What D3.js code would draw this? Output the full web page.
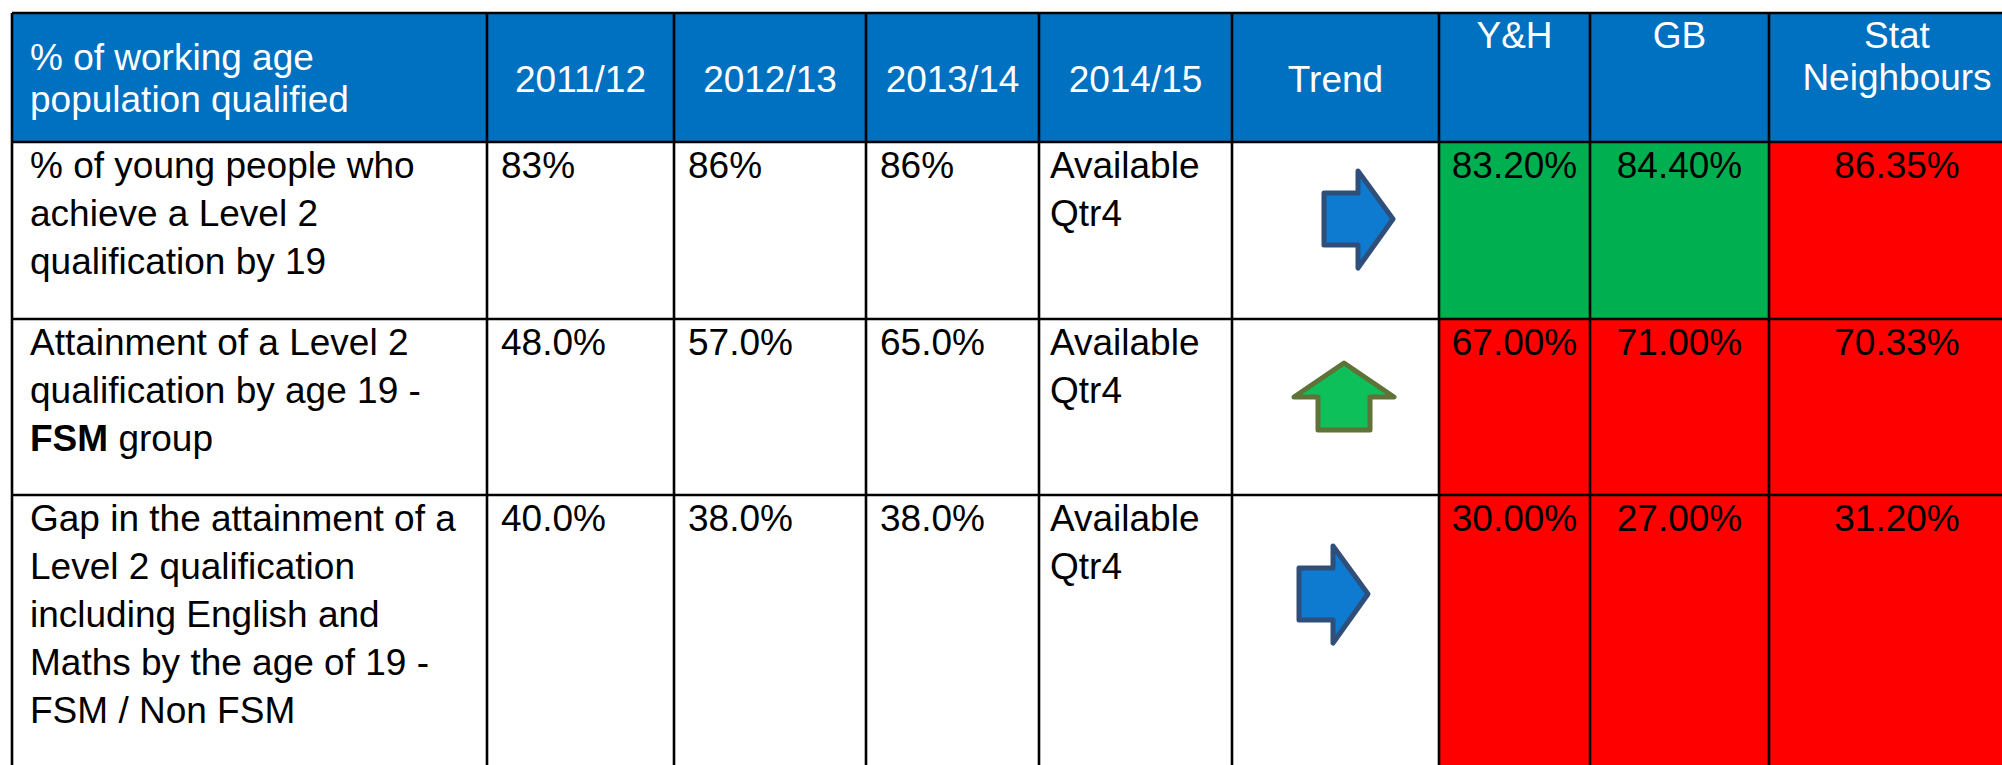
<!DOCTYPE html>
<html>
<head>
<meta charset="utf-8">
<script src="https://cdn.jsdelivr.net/npm/d3@7"></script>
<style>
  body { margin: 0; background: #fff; }
  svg { display: block; font-family: "Liberation Sans", Arial, sans-serif; }
</style>
</head>
<body>
<div id="table-container"></div>
<script>
// data
const headerTitle = ["% of working age", "population qualified"];
const years = ["2011/12", "2012/13", "2013/14", "2014/15"];
const comparators = [["Y&H"], ["GB"], ["Stat", "Neighbours"]];

const indicators = [
    [["% of young people who"], ["achieve a Level 2"], ["qualification by 19"]],
    [["Attainment of a Level 2"], ["qualification by age 19 -"], ["FSM", " group"]],
    [["Gap in the attainment of a"], ["Level 2 qualification"], ["including English and"], ["Maths by the age of 19 -"], ["FSM / Non FSM"]]
];
const v2011 = ["83%", "48.0%", "40.0%"];
const v2012 = ["86%", "57.0%", "38.0%"];
const v2013 = ["86%", "65.0%", "38.0%"];
const v2014 = [["Available", "Qtr4"], ["Available", "Qtr4"], ["Available", "Qtr4"]];
const trend = ["flat", "up", "flat"];
const yh = [83.20, 67.00, 30.00];
const gb = [84.40, 71.00, 27.00];
const statNeighbours = [86.35, 70.33, 31.20];
const yhRag = ["green", "red", "red"];
const gbRag = ["green", "red", "red"];
const snRag = ["red", "red", "red"];

// layout
const W = 2002, H = 765;
const colEdges = [12, 487, 674, 866, 1039, 1232, 1439, 1590, 1769, 2025];
const rowEdges = [13, 142, 319, 495, 800];
const lineH = 48;
const headerBlue = "#0070C0";
const ragColor = { green: "#00B050", red: "#FF0000" };

const svg = d3.select("#table-container").append("svg")
    .attr("width", W)
    .attr("height", H);

// header cells
svg.append("g").selectAll("rect")
    .data(d3.range(colEdges.length - 1))
    .enter().append("rect")
    .attr("x", i => colEdges[i])
    .attr("y", rowEdges[0])
    .attr("width", i => colEdges[i + 1] - colEdges[i])
    .attr("height", rowEdges[1] - rowEdges[0])
    .attr("fill", headerBlue);

// body RAG cells
const ragCols = [yhRag, gbRag, snRag];
const ragCells = [];
ragCols.forEach((col, ci) => col.forEach((s, ri) => ragCells.push({ c: 6 + ci, r: ri + 1, s })));
svg.append("g").selectAll("rect")
    .data(ragCells)
    .enter().append("rect")
    .attr("x", d => colEdges[d.c])
    .attr("y", d => rowEdges[d.r])
    .attr("width", d => colEdges[d.c + 1] - colEdges[d.c])
    .attr("height", d => rowEdges[d.r + 1] - rowEdges[d.r])
    .attr("fill", d => ragColor[d.s]);

// grid
const grid = svg.append("g").attr("stroke", "#000").attr("stroke-width", 2.6);
colEdges.forEach(x => grid.append("line")
    .attr("x1", x).attr("x2", x).attr("y1", rowEdges[0]).attr("y2", H + 10));
rowEdges.forEach(y => grid.append("line")
    .attr("x1", colEdges[0]).attr("x2", W + 30).attr("y1", y).attr("y2", y));

// text helper
function addText(lines, x, y, anchor, color) {
    const t = svg.append("text")
        .attr("x", x)
        .attr("y", y)
        .attr("text-anchor", anchor)
        .attr("font-size", 37)
        .attr("fill", color);
    lines.forEach((l, i) => {
        const parts = Array.isArray(l) ? l : [l];
        parts.forEach((p, j) => {
            const ts = t.append("tspan").text(p);
            if (j === 0) ts.attr("x", x).attr("dy", i === 0 ? 0 : lineH);
            if (p === "FSM" && parts.length > 1) ts.attr("font-weight", "bold");
        });
    });
    return t;
}

// header text
svg.append("text").attr("x", 30).attr("y", 70).attr("font-size", 37).attr("fill", "#fff").text(headerTitle[0]);
svg.append("text").attr("x", 30).attr("y", 112).attr("font-size", 37).attr("fill", "#fff").text(headerTitle[1]);
years.forEach((yr, i) => {
    svg.append("text")
        .attr("x", (colEdges[i + 1] + colEdges[i + 2]) / 2)
        .attr("y", 92)
        .attr("text-anchor", "middle")
        .attr("font-size", 37)
        .attr("fill", "#fff")
        .text(yr);
});
svg.append("text").attr("x", (colEdges[5] + colEdges[6]) / 2).attr("y", 92).attr("text-anchor", "middle")
    .attr("font-size", 37).attr("fill", "#fff").text("Trend");
comparators.forEach((lines, i) => {
    const cx = (colEdges[6 + i] + colEdges[7 + i]) / 2;
    lines.forEach((l, j) => svg.append("text")
        .attr("x", cx)
        .attr("y", 48 + j * 42)
        .attr("text-anchor", "middle")
        .attr("font-size", 37)
        .attr("fill", "#fff")
        .text(l));
});

// body text
const pad = 14;
const fmt = d3.format(".2f");
indicators.forEach((lines, r) => {
    const top = rowEdges[r + 1];
    const base = top + 36;
    addText(lines, 30, base, "start", "#000");
    addText([v2011[r]], colEdges[1] + pad, base, "start", "#000");
    addText([v2012[r]], colEdges[2] + pad, base, "start", "#000");
    addText([v2013[r]], colEdges[3] + pad, base, "start", "#000");
    addText(v2014[r], colEdges[4] + 11, base, "start", "#000");
    [yh, gb, statNeighbours].forEach((arr, ci) => {
        addText([fmt(arr[r]) + "%"], (colEdges[6 + ci] + colEdges[7 + ci]) / 2, base, "middle", "#000");
    });
});

// trend arrows
const arrowRight = "M0,22 L34,22 L34,0 L69,48 L34,97 L34,74 L0,74 Z";
const arrowUp = "M50,0 L100,34 L76,34 L76,67 L24,67 L24,34 L0,34 Z";
const arrowPos = [[1324, 171], [1294, 363], [1299, 546]];
trend.forEach((t, r) => {
    svg.append("path")
        .attr("d", t === "up" ? arrowUp : arrowRight)
        .attr("transform", `translate(${arrowPos[r][0]},${arrowPos[r][1]})`)
        .attr("fill", t === "up" ? "#0DC05A" : "#0E7BD0")
        .attr("stroke", t === "up" ? "#5F7339" : "#2F4F7A")
        .attr("stroke-width", 5)
        .attr("stroke-linejoin", "round");
});
</script>
</body>
</html>
